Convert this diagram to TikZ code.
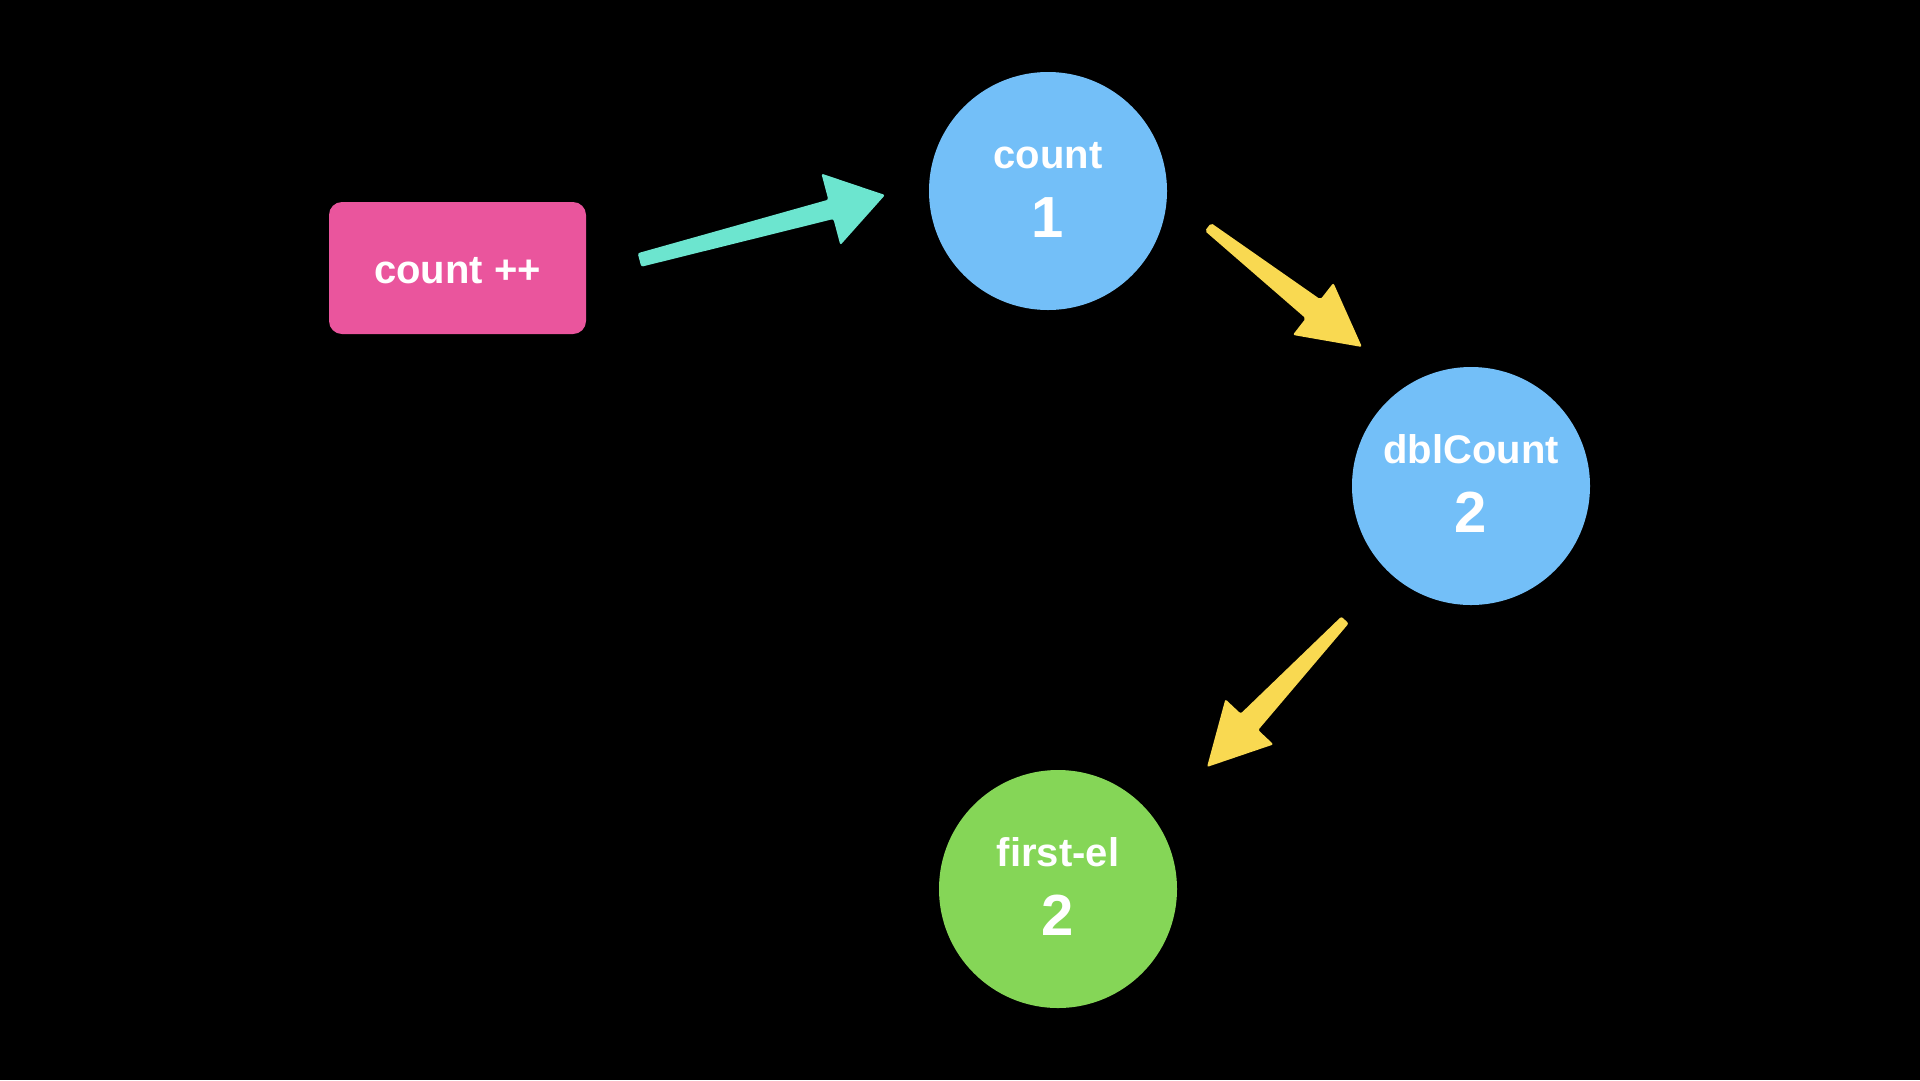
\documentclass[tikz,border=0pt]{standalone}
\usepackage{fontspec}
\setmainfont{Liberation Sans}
\usetikzlibrary{calc}

\definecolor{bgblack}{HTML}{000000}
\definecolor{pinkbox}{HTML}{EA559D}
\definecolor{skyblue}{HTML}{73BFF8}
\definecolor{leafgreen}{HTML}{85D657}
\definecolor{mint}{HTML}{6CE5CF}
\definecolor{sun}{HTML}{F9D951}

% #1 colour, #2 tail, #3 tip, #4 half shaft width at tail,
% #5 half shaft width at head, #6 head length, #7 half head width
\newcommand{\paintarrow}[7]{%
  \fill[#1, rounded corners=2pt]
    ($(#2)!#4!90:(#3)$)
    -- ($($(#3)!#6!(#2)$)!#5!-90:(#2)$)
    -- ($($(#3)!#6!(#2)$)!#7!-90:(#2)$)
    -- (#3)
    -- ($($(#3)!#6!(#2)$)!#7!90:(#2)$)
    -- ($($(#3)!#6!(#2)$)!#5!90:(#2)$)
    -- ($(#2)!#4!-90:(#3)$)
    -- cycle;}

\tikzset{
  x=1pt, y=-1pt,
  bubble/.style={circle, inner sep=0pt, minimum size=238pt},
  varname/.style={text=white, font=\fontsize{40}{44}\selectfont\bfseries, anchor=base, inner sep=0pt},
  varvalue/.style={text=white, font=\fontsize{58}{62}\selectfont\bfseries, anchor=base, inner sep=0pt},
  action/.style={rectangle, rounded corners=13pt, fill=pinkbox, minimum width=257pt, minimum height=132pt, inner sep=0pt}
}

\begin{document}
\begin{tikzpicture}
  \fill[bgblack] (0,0) rectangle (1920,1080);

  % mutation trigger
  \node[action] (inc) at (457.5,268) {};
  \node[varname] (inclabel) at (457.5,283) {count ++};

  % reactive values
  \node[bubble, fill=skyblue] (count) at (1048,191) {};
  \node[varname] (countname) at (1048,168) {count};
  \node[varvalue] (countval) at (1048,237) {1};

  \node[bubble, fill=skyblue] (dbl) at (1471,486) {};
  \node[varname] (dblname) at (1471,463) {dblCount};
  \node[varvalue] (dblval) at (1471,532) {2};

  \node[bubble, fill=leafgreen] (first) at (1058,889) {};
  \node[varname] (firstname) at (1058,866) {first-el};
  \node[varvalue] (firstval) at (1058,935) {2};

  % arrow end points, placed next to the nodes they link
  \coordinate (m0) at ($(inc.center)+(182,-8)$);
  \coordinate (m1) at ($(count.center)+(-163,4)$);
  \coordinate (y0) at ($(count.center)+(160,36)$);
  \coordinate (y1) at ($(dbl.center)+(-109,-139)$);
  \coordinate (z0) at ($(dbl.center)+(-126,134)$);
  \coordinate (z1) at ($(first.center)+(149,-122)$);

  \paintarrow{mint}{m0}{m1}{7pt}{10pt}{56pt}{37pt}
  \paintarrow{sun}{y0}{y1}{5pt}{12pt}{62pt}{33pt}
  \paintarrow{sun}{z0}{z1}{5pt}{12pt}{62pt}{33pt}
\end{tikzpicture}
\end{document}
